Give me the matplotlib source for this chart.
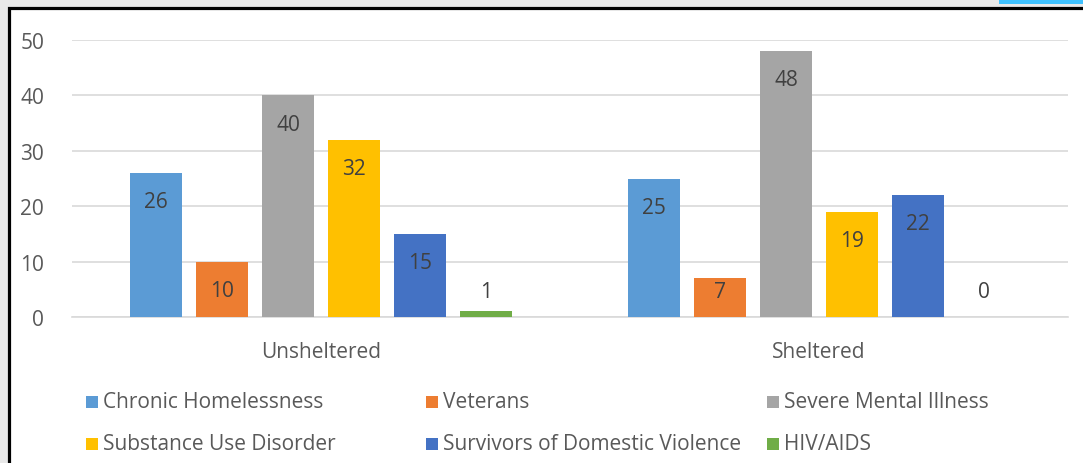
import numpy as np
import matplotlib
matplotlib.use("Agg")
import matplotlib.pyplot as plt
from matplotlib.patches import Rectangle

# data
groups = ["Unsheltered", "Sheltered"]
series = ["Chronic Homelessness", "Veterans", "Severe Mental Illness",
          "Substance Use Disorder", "Survivors of Domestic Violence", "HIV/AIDS"]
values = [
    [26, 25],   # Chronic Homelessness
    [10, 7],    # Veterans
    [40, 48],   # Severe Mental Illness
    [32, 19],   # Substance Use Disorder
    [15, 22],   # Survivors of Domestic Violence
    [1, 0],     # HIV/AIDS
]
colors = ["#5B9BD5", "#ED7D31", "#A5A5A5", "#FFC000", "#4472C4", "#70AD47"]

plt.rcParams['font.family'] = ['Open Sans', 'DejaVu Sans']
FS = 15
W, H = 1083, 464

fig = plt.figure(figsize=(W / 100, H / 100), dpi=100, facecolor="#E8E8E8")

# white card with black frame (top and left edges visible)
fig.patches.append(Rectangle((8.5 / W, -0.1), 1.2, 1 - 8.5 / H + 0.1,
                             transform=fig.transFigure, facecolor="white",
                             edgecolor="black", linewidth=2.3, zorder=-5))
fig.patches.append(Rectangle((999 / W, 1 - 5 / H), 0.2, 0.1,
                             transform=fig.transFigure, facecolor="#3FC1FF",
                             edgecolor="none", zorder=-4))

ax = fig.add_axes([72 / W, 1 - 318 / H, (1068 - 72) / W, (318 - 41) / H])
ax.set_facecolor("none")
ax.set_zorder(2)

x = np.arange(len(groups))
step = 0.1325
width = 0.104
for j, (name, vals, c) in enumerate(zip(series, values, colors)):
    pos = x + (j - 2.5) * step
    ax.bar(pos, vals, width=width, color=c, label=name, zorder=3)
    for px, v in zip(pos, vals):
        ax.text(px, max(v - 5.2, 4.6), str(v), ha="center", va="center",
                fontsize=FS, color="#404040", zorder=4)

ax.set_xlim(-0.5, 1.5)
ax.set_ylim(0, 50)
ax.set_yticks(range(0, 51, 10))
ax.yaxis.grid(True, color="#D9D9D9", linewidth=1.2, zorder=0)
ax.set_axisbelow(True)
for s in ["top", "right", "left"]:
    ax.spines[s].set_visible(False)
ax.spines["bottom"].set_color("#D9D9D9")
ax.spines["bottom"].set_linewidth(1.2)
ax.tick_params(axis="y", length=0, pad=20, labelsize=FS, labelcolor="#595959")
ax.tick_params(axis="x", length=0, pad=17, labelsize=FS, labelcolor="#595959")
ax.set_xticks(x)
ax.set_xticklabels(groups)

# legend, laid out like the original (3 columns, 2 rows)
col_x = [86, 426, 767]
row_y = [403, 445]
for k, (name, c) in enumerate(zip(series, colors)):
    cx = col_x[k % 3]
    cy = row_y[k // 3]
    fig.patches.append(Rectangle((cx / W, 1 - (cy + 6) / H), 12 / W, 12 / H,
                                 transform=fig.transFigure, facecolor=c,
                                 edgecolor="none", zorder=2))
    fig.text((cx + 17) / W, 1 - cy / H, name, ha="left", va="center",
             fontsize=FS, color="#595959")

fig.savefig("out.png", dpi=100, facecolor=fig.get_facecolor())
